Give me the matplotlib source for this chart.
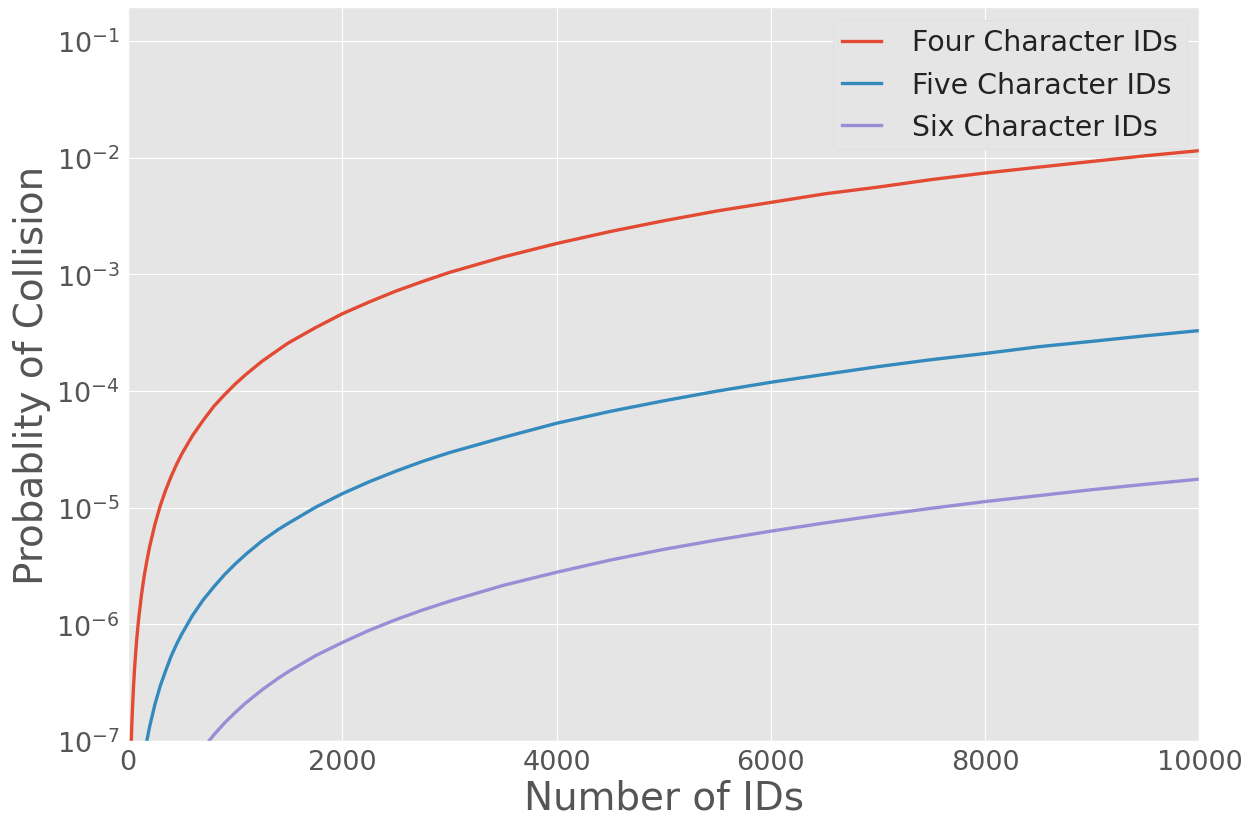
import matplotlib
matplotlib.use("Agg")
import matplotlib.pyplot as plt
from matplotlib.ticker import LogLocator, NullLocator

plt.style.use("ggplot")

# values
four_x = [20, 25, 30, 35, 40, 50, 60, 70, 80, 90, 100, 125, 150, 175, 200, 250, 300, 350,
          400, 450, 500, 600, 700, 800, 900, 1000, 1100, 1250, 1400, 1500, 1750, 2000,
          2250, 2500, 2750, 3000, 3500, 4000, 4500, 5000, 5500, 6000, 6500, 7000, 7500,
          8000, 8500, 9000, 9500, 10000]
four_y = [4.6e-8, 7.2e-8, 1.04e-7, 1.41e-7, 1.84e-7, 2.88e-7, 4.14e-7, 5.6e-7, 7.4e-7,
          9.3e-7, 1.15e-6, 1.8e-6, 2.6e-6, 3.5e-6, 4.6e-6, 7.2e-6, 1.04e-5, 1.41e-5,
          1.84e-5, 2.33e-5, 2.88e-5, 4.14e-5, 5.6e-5, 7.4e-5, 9.3e-5, 1.15e-4, 1.39e-4,
          1.8e-4, 2.25e-4, 2.6e-4, 3.5e-4, 4.6e-4, 5.8e-4, 7.2e-4, 8.7e-4, 1.04e-3,
          1.41e-3, 1.84e-3, 2.33e-3, 2.88e-3, 3.5e-3, 4.14e-3, 4.9e-3, 5.6e-3, 6.5e-3,
          7.4e-3, 8.3e-3, 9.3e-3, 1.04e-2, 1.15e-2]

five_x = [120, 150, 175, 200, 250, 300, 350, 400, 450, 500, 600, 700, 800, 900, 1000,
          1100, 1250, 1400, 1500, 1750, 2000, 2250, 2500, 2750, 3000, 3500, 4000, 4500,
          5000, 5500, 6000, 6500, 7000, 7500, 8000, 8500, 9000, 9500, 10000]
five_y = [4.75e-8, 7.4e-8, 1.01e-7, 1.32e-7, 2.06e-7, 2.97e-7, 4.0e-7, 5.3e-7, 6.7e-7,
          8.25e-7, 1.19e-6, 1.62e-6, 2.1e-6, 2.67e-6, 3.3e-6, 4.0e-6, 5.2e-6, 6.5e-6,
          7.4e-6, 1.01e-5, 1.32e-5, 1.67e-5, 2.06e-5, 2.5e-5, 2.97e-5, 4.0e-5, 5.3e-5,
          6.7e-5, 8.25e-5, 1.0e-4, 1.19e-4, 1.39e-4, 1.62e-4, 1.86e-4, 2.1e-4, 2.4e-4,
          2.67e-4, 2.98e-4, 3.3e-4]

six_x = [650, 700, 750, 800, 900, 1000, 1100, 1250, 1400, 1500, 1750, 2000, 2250, 2500,
         2750, 3000, 3500, 4000, 4500, 5000, 5500, 6000, 6500, 7000, 7500, 8000, 8500,
         9000, 9500, 10000]
six_y = [7.4e-8, 8.6e-8, 9.9e-8, 1.13e-7, 1.43e-7, 1.76e-7, 2.13e-7, 2.75e-7, 3.45e-7,
         3.96e-7, 5.4e-7, 7.0e-7, 8.9e-7, 1.1e-6, 1.33e-6, 1.58e-6, 2.16e-6, 2.8e-6,
         3.56e-6, 4.4e-6, 5.3e-6, 6.3e-6, 7.4e-6, 8.6e-6, 9.9e-6, 1.13e-5, 1.27e-5,
         1.43e-5, 1.59e-5, 1.76e-5]

labels = ["Four Character IDs", "Five Character IDs", "Six Character IDs"]

fig = plt.figure(figsize=(12.56, 8.2), dpi=100)
ax = fig.add_axes([0.102, 0.095, 0.853, 0.895])

ax.plot(four_x, four_y, lw=2.4, label=labels[0], solid_joinstyle="round")
ax.plot(five_x, five_y, lw=2.4, label=labels[1], solid_joinstyle="round")
ax.plot(six_x, six_y, lw=2.4, label=labels[2], solid_joinstyle="round")

ax.set_yscale("log")
ax.set_xlim(0, 10000)
ax.set_ylim(1e-7, 0.195)
ax.set_xticks([0, 2000, 4000, 6000, 8000, 10000])
ax.yaxis.set_major_locator(LogLocator(base=10, numticks=10))
ax.yaxis.set_minor_locator(NullLocator())
ax.tick_params(axis="both", labelsize=19.5, colors="#555555", length=0, pad=6)

ax.set_xlabel("Number of IDs", fontsize=28, color="#555555", labelpad=2)
ax.set_ylabel("Probablity of Collision", fontsize=28, color="#555555")

leg = ax.legend(loc="upper right", fontsize=20.4, facecolor="#E5E5E5",
                edgecolor="#DDDDDD", framealpha=1, handlelength=1.4,
                handletextpad=1.1, borderpad=0.3, labelspacing=0.5,
                borderaxespad=0.45)
for t in leg.get_texts():
    t.set_color("#222222")

fig.savefig("out.png", dpi=100)
